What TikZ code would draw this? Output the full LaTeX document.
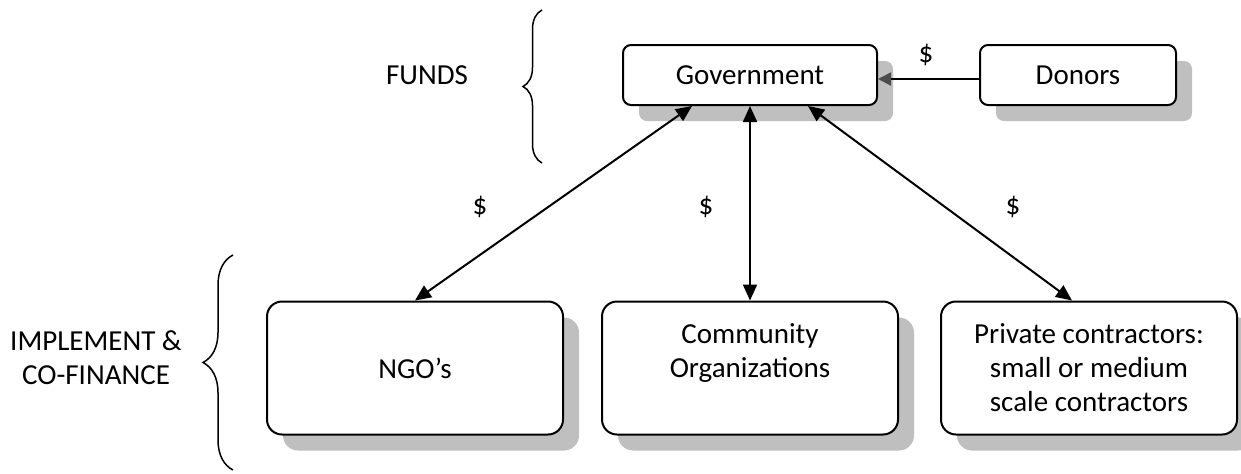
\documentclass[tikz,border=0pt]{standalone}
\usepackage{fontspec}
\setmainfont{Carlito}
\usetikzlibrary{arrows.meta,shadows,decorations.pathreplacing}
\tikzset{
  box/.style={draw, line width=1pt, fill=white, align=center, rounded corners=4pt,
    drop shadow={shadow xshift=8pt, shadow yshift=-8pt, fill=black!25, opacity=1}},
  smallbox/.style={box, minimum height=30pt},
  bigbox/.style={box, rounded corners=7.5pt, minimum width=148pt, minimum height=66.5pt},
  link/.style={line width=1pt},
  curly/.style={decorate, decoration={brace, amplitude=#1}, line width=0.75pt},
}
\begin{document}
\begin{tikzpicture}[x=0.5pt, y=-0.5pt, >={Triangle[length=8pt, width=7pt]},
  font=\fontsize{14.5}{17}\selectfont]
  \useasboundingbox (0,0) rectangle (1241,473);

  \node[smallbox, minimum width=127pt] (gov) at (750,75) {Government};
  \node[smallbox, minimum width=98pt] (donors) at (1078,75) {Donors};
  \node[bigbox] (ngo) at (415,368) {NGO’s};
  \node[bigbox] (comm) at (750,368) {Community\\Organizations\\\mbox{}};
  \node[bigbox] (priv) at (1089,368) {Private contractors:\\small or medium\\scale contractors};

  \node (funds) at (427,75) {FUNDS};
  \node[align=center] (impl) at (96,358) {IMPLEMENT \&\\CO-FINANCE};
  \draw[curly=9.5pt] (542,163) -- (542,10);
  \draw[curly=15pt] (233,470) -- (233,255);

  \node (d0) at (926,55) {\$};
  \node (d1) at (480,207) {\$};
  \node (d2) at (706,207) {\$};
  \node (d3) at (1013,207) {\$};

  \draw[link, -{Triangle[length=6.5pt, width=6.5pt, color=black!70]}]
    ([yshift=-2pt]donors.west) -- ([yshift=-2pt]gov.east);
  \draw[link, <->] ([xshift=-29pt]gov.south) -- (ngo.north);
  \draw[link, <->] (gov.south) -- (comm.north);
  \draw[link, <->] ([xshift=29pt]gov.south) -- ([xshift=-8.5pt]priv.north);
\end{tikzpicture}
\end{document}
